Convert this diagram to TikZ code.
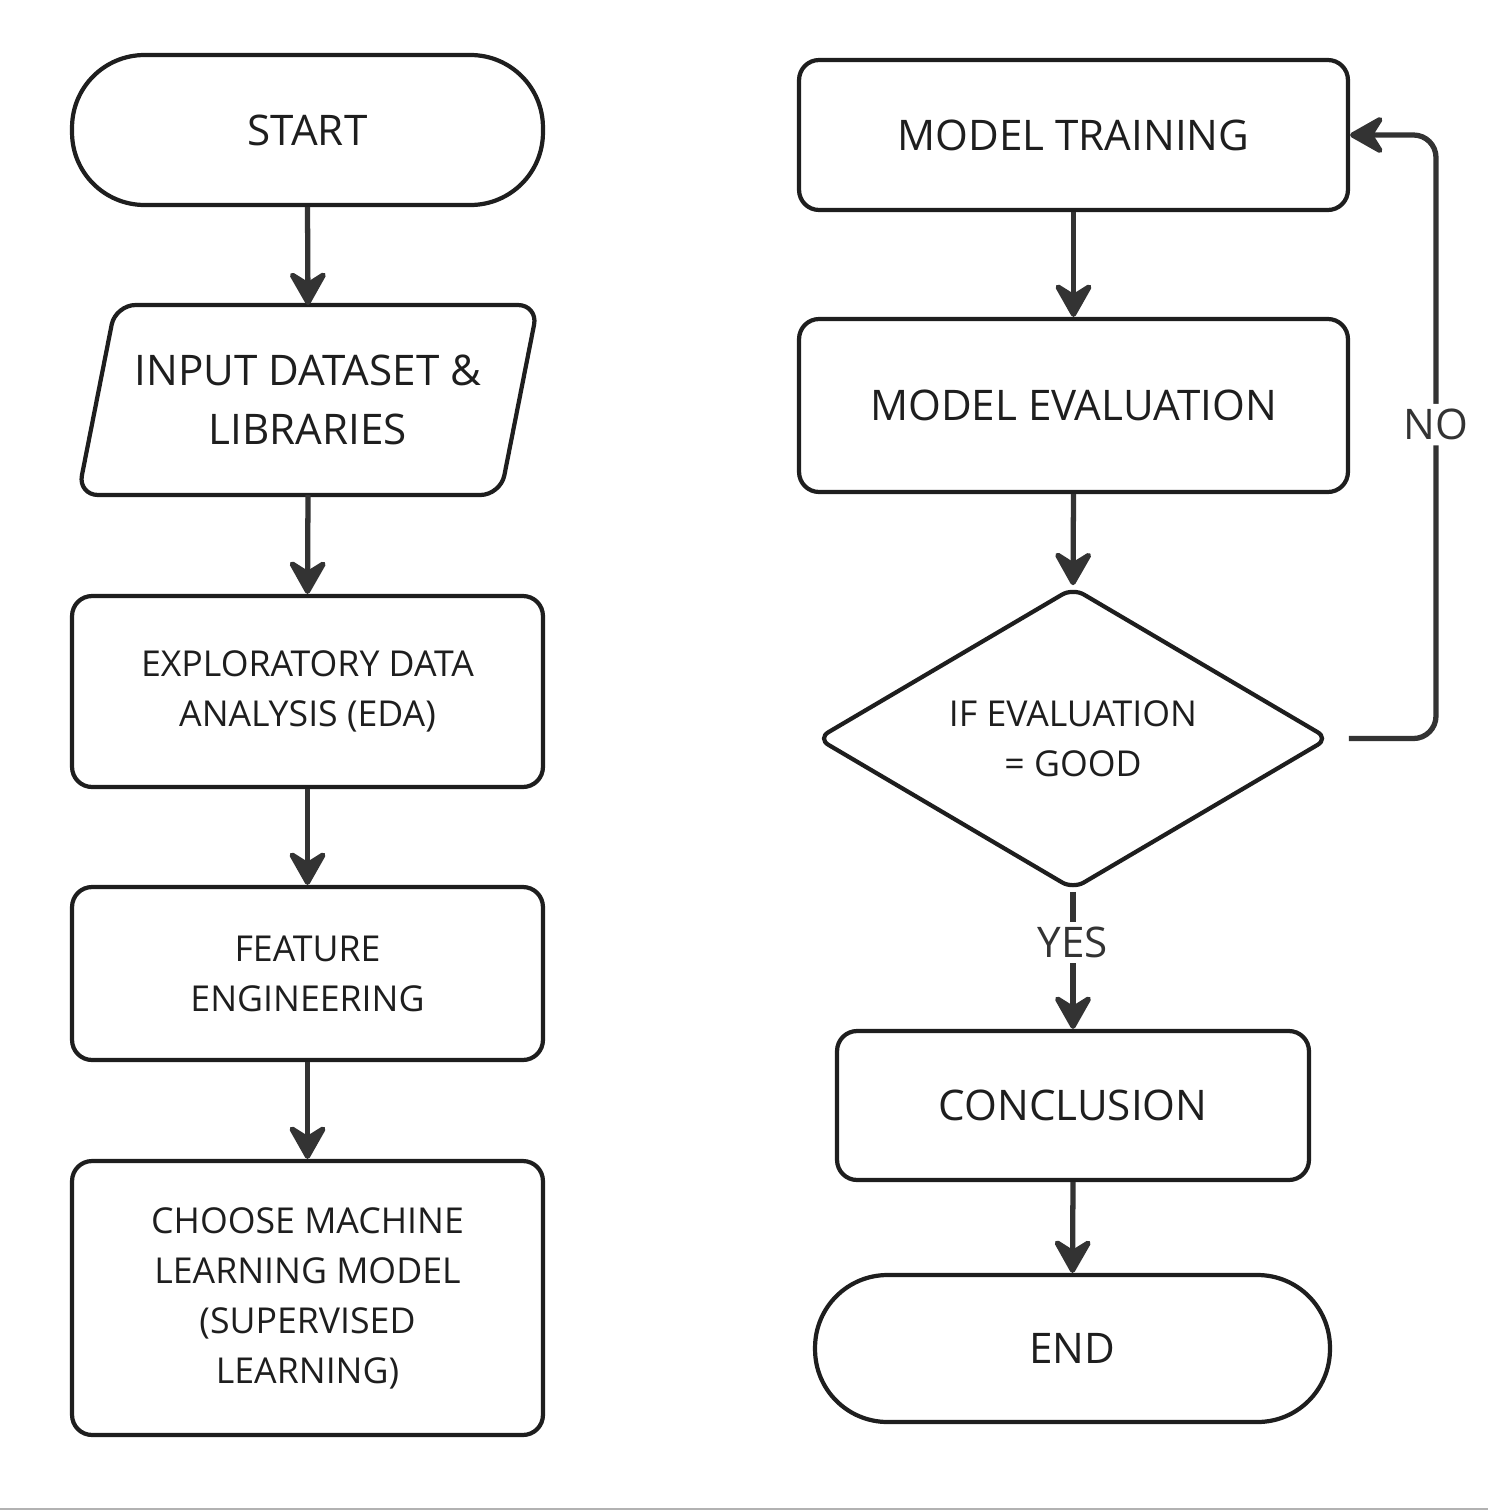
\documentclass[tikz,border=0pt]{standalone}
\usepackage{fontspec}
\setmainfont{Open Sans}
\usetikzlibrary{arrows.meta,shapes.geometric}
\definecolor{ink}{HTML}{1E1E1E}
\definecolor{wire}{HTML}{333333}
\tikzset{
  box/.style={draw=ink, line width=2.4pt, rounded corners=0.4cm, minimum width=9.42cm, align=center, text=ink},
  term/.style={box, rounded corners=1.45cm},
  conn/.style={draw=wire, line width=3pt, -{Stealth[length=0.8cm, width=0.9cm, inset=0.28cm, round]}},
  big/.style={font=\fontsize{24}{34}\selectfont},
  small/.style={font=\fontsize{20.3}{28.5}\selectfont},
  lbl/.style={fill=white, text=wire, inner sep=3pt, big}
}

\begin{document}
\begin{tikzpicture}[x=0.02cm, y=-0.02cm]
        \useasboundingbox (0,0) rectangle (1488,1511);
        \pgfmathsetmacro{\slant}{0.75}
        \node (start) [term, big, minimum height=3cm] at (307.5,130) {START};
        \node (input) [big, minimum width=9.2cm, minimum height=3.8cm, outer sep=0pt, align=center, text=ink] at (308,400) {INPUT DATASET \&\\LIBRARIES};
        \draw [draw=ink, line width=2.4pt, rounded corners=0.4cm] ([xshift=\slant cm]input.north west) -- (input.north east) -- ([xshift=-\slant cm]input.south east) -- (input.south west) -- cycle;
        \node (eda) [box, small, minimum height=3.82cm] at (307.5,691.5) {EXPLORATORY DATA\\ANALYSIS (EDA)};
        \node (feat) [box, small, minimum height=3.46cm] at (307.5,973.5) {FEATURE\\ENGINEERING};
        \node (choose) [box, small, minimum height=5.48cm] at (307.5,1298) {CHOOSE MACHINE\\LEARNING MODEL\\(SUPERVISED\\LEARNING)};
        \node (train) [box, big, minimum width=10.98cm, minimum height=3cm] at (1073.5,135) {MODEL TRAINING};
        \node (eval) [box, big, minimum width=10.98cm, minimum height=3.46cm] at (1073.5,405.5) {MODEL EVALUATION};
        \node (cond) [diamond, aspect=1.68, inner sep=0pt, draw=ink, line width=2.4pt, rounded corners=0.25cm, minimum width=10.25cm, minimum height=6.05cm, align=center, text=ink, small] at (1073,738.5) {IF EVALUATION\\= GOOD};
        \node (concl) [box, big, minimum width=9.44cm, minimum height=2.98cm] at (1073,1105.5) {CONCLUSION};
        \node (finish) [term, big, minimum width=10.3cm, minimum height=2.94cm] at (1072.5,1348.5) {END};
        \foreach \a/\b in {start/input, input/eda, eda/feat, feat/choose, train/eval, eval/cond, concl/finish}{
                \draw [conn] (\a.south) -- (\b.north);
            }
        \draw [conn] (cond.south) -- node[lbl, pos=0.37] {YES} (concl.north);
        \coordinate (bend) at (1436,738.5);
        \draw [conn, rounded corners=0.45cm] ([xshift=0.35cm]cond.east) -- (bend) |- node[lbl, pos=0.26] {NO} (train.east);
        \draw [gray!60, line width=0.6pt] (0,1509) -- (1488,1509);
    \end{tikzpicture}
\end{document}
